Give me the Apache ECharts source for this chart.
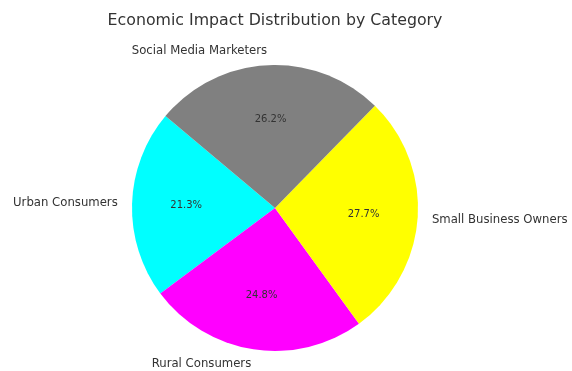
<!DOCTYPE html>
<html>
<head>
<meta charset="utf-8">
<script src="https://cdn.jsdelivr.net/npm/echarts@6/dist/echarts.min.js"></script>
<style>
  html, body { margin: 0; padding: 0; background: #fff; }
  #chart { width: 572px; height: 371px; }
</style>
</head>
<body>
<div id="chart"></div>
<script>
// slice order follows the original (counter-clockwise from 140 deg)
const categories = ['Urban Consumers', 'Rural Consumers', 'Small Business Owners', 'Social Media Marketers']
const shares = [21.3, 24.8, 27.7, 26.2]
const colors = ['#00ffff', '#ff00ff', '#ffff00', '#808080']

const R = 143
const center = [275, 208]
const font = 'DejaVu Sans'

const slices = categories.map((name, i) => ({
  name: name,
  value: shares[i],
  itemStyle: { color: colors[i] }
}))

const chart = echarts.init(document.getElementById('chart'))
chart.setOption({
  animation: false,
  title: {
    text: 'Economic Impact Distribution by Category',
    left: 270,
    textAlign: 'center',
    top: 8,
    textStyle: { fontFamily: font, fontSize: 15.8, fontWeight: 'normal', color: '#333' }
  },
  series: [
    {
      // the pie itself with category labels outside
      type: 'pie',
      center: center,
      radius: [0, R],
      startAngle: 140,
      clockwise: false,
      avoidLabelOverlap: false,
      data: slices,
      label: {
        show: true,
        position: 'outside',
        formatter: '{b}',
        distanceToLabelLine: 0,
        fontFamily: font,
        fontSize: 11.7,
        color: '#333'
      },
      labelLine: { show: false, length: R * 0.1, length2: 0 }
    },
    {
      // invisible ring so the percent labels sit at 0.6 R
      type: 'pie',
      center: center,
      radius: [0, R * 1.2],
      startAngle: 140,
      clockwise: false,
      silent: true,
      avoidLabelOverlap: false,
      data: slices.map(s => ({ name: s.name, value: s.value, itemStyle: { color: 'rgba(0,0,0,0)' } })),
      label: {
        show: true,
        position: 'inside',
        formatter: p => p.value.toFixed(1) + '%',
        fontFamily: font,
        fontSize: 10,
        color: '#333'
      },
      labelLine: { show: false }
    }
  ]
})
</script>
</body>
</html>
